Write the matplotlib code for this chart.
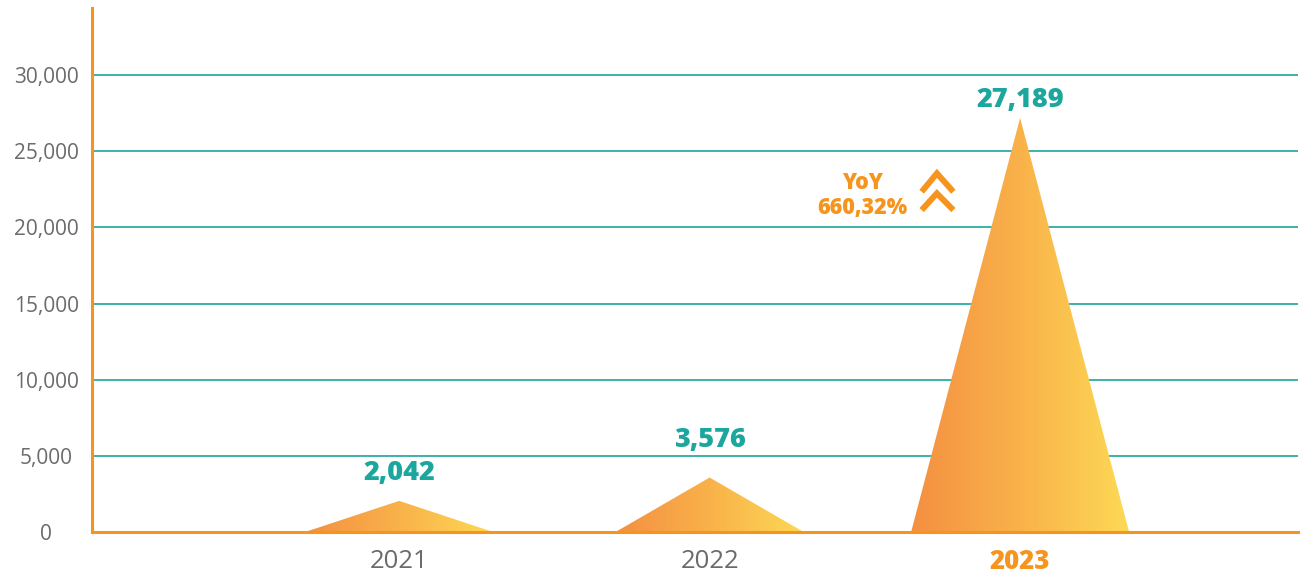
import numpy as np
import matplotlib.pyplot as plt
from matplotlib.colors import LinearSegmentedColormap
from matplotlib.patches import Polygon

# ── Data ──
years = ["2021", "2022", "2023"]
values = [2042, 3576, 27189]
value_labels = ["2,042", "3,576", "27,189"]
yoy_text = "YoY\n660,32%"
yticks = [0, 5000, 10000, 15000, 20000, 25000, 30000]

# ── Style ──
ORANGE = "#F7941D"
TEAL = "#1BA69E"
GRAY = "#6B6B6B"
grad = LinearSegmentedColormap.from_list("peak", ["#F48F42", "#F9B24A", "#FDD955"])
half_w = [0.303, 0.303, 0.351]
label_pad = [15, 22, 7.5]

plt.rcParams['font.family'] = ['Open Sans', 'DejaVu Sans']

fig = plt.figure(figsize=(13.04, 5.78), dpi=100)
ax = fig.add_axes([0.0706, 0.0796, 0.9248, 0.9064])

xs = np.arange(len(years))
ax.set_xlim(-0.989, 2.895)
ax.set_ylim(0, 34400)

# grid lines (not at zero, the axis sits there)
for t in yticks[1:]:
    ax.axhline(t, color=TEAL, lw=1.2, zorder=1)

# ── gradient triangles ──
for x, v, hw in zip(xs, values, half_w):
    tri = Polygon([(x - hw, 0), (x, v), (x + hw, 0)], closed=True,
                  facecolor='none', edgecolor='none')
    ax.add_patch(tri)
    img = ax.imshow(np.linspace(0, 1, 256).reshape(1, -1), cmap=grad,
                    extent=(x - hw, x + hw, 0, v), aspect='auto',
                    interpolation='bicubic', zorder=2)
    img.set_clip_path(tri)

for x, v, lab, pad in zip(xs, values, value_labels, label_pad):
    ax.annotate(lab, xy=(x, v), xytext=(0, pad), textcoords='offset points',
                ha='center', va='baseline', fontsize=19.5, fontweight='heavy',
                color=TEAL, zorder=4)

# ── YoY note with double chevron ──
ax.text(1.491, 22120, yoy_text, ha='center', va='center', multialignment='center',
        fontsize=15.5, fontweight='heavy', color=ORANGE, linespacing=1.05)
for top, bot in [(23548, 22340), (22235, 21139)]:
    ax.plot([1.683, 1.732, 1.785], [bot, top, bot], color=ORANGE, lw=4.3,
            solid_joinstyle='miter', solid_capstyle='butt', zorder=4)

# ── axes ──
ax.set_xticks(xs)
ax.set_xticklabels(years, fontsize=18.5, color=GRAY)
last = ax.get_xticklabels()[-1]
last.set_color(ORANGE)
last.set_fontweight('heavy')
ax.set_yticks(yticks)
ax.set_yticklabels([f"{t:,}" for t in yticks], fontsize=15, color=GRAY, ha='center')
ax.tick_params(axis='y', length=0, pad=33)
ax.tick_params(axis='x', length=0, pad=12)

for s in ['top', 'right']:
    ax.spines[s].set_visible(False)
for s in ['left', 'bottom']:
    ax.spines[s].set_color(ORANGE)
    ax.spines[s].set_linewidth(2.2)
    ax.spines[s].set_zorder(5)

plt.savefig("out.png", dpi=100)
